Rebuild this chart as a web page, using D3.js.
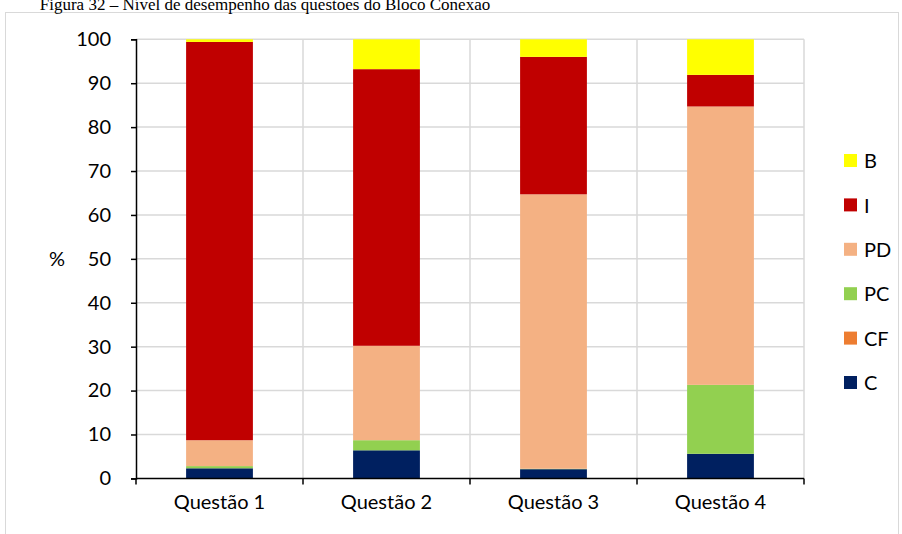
<!DOCTYPE html>
<html>
<head>
<meta charset="utf-8">
<script src="https://cdn.jsdelivr.net/npm/d3@7"></script>
<style>
  html, body { margin: 0; padding: 0; background: #fff; }
  svg { display: block; }
</style>
</head>
<body>
<svg id="chart" width="902" height="534"></svg>
<script>
// Questions on the x axis
const categories = ["Questão 1", "Questão 2", "Questão 3", "Questão 4"];
// Performance levels, stacked from the bottom up
const levels = ["C", "CF", "PC", "PD", "I", "B"];
// Share (%) of each level for every question
const valuesC  = [2.3, 6.4, 2.1, 5.6];
const valuesCF = [0.0, 0.0, 0.0, 0.0];
const valuesPC = [0.5, 2.3, 0.1, 15.7];
const valuesPD = [5.9, 21.5, 62.5, 63.4];
const valuesI  = [90.7, 63.0, 31.3, 7.2];
const valuesB  = [0.6, 6.8, 4.0, 8.1];
const yTicks = [0, 10, 20, 30, 40, 50, 60, 70, 80, 90, 100];
const titleText = "Figura 32 – Nível de desempenho das questões do Bloco Conexão";
const legendOrder = ["B", "I", "PD", "PC", "CF", "C"];

const levelColors = {
  C: "#002060", CF: "#ED7D31", PC: "#92D050",
  PD: "#F4B183", I: "#C00000", B: "#FFFF00"
};

const seriesValues = { C: valuesC, CF: valuesCF, PC: valuesPC, PD: valuesPD, I: valuesI, B: valuesB };
const rows = categories.map((q, i) => {
  const r = { q };
  levels.forEach(l => r[l] = seriesValues[l][i]);
  return r;
});

const svg = d3.select("#chart");
const font = "Lato, 'Open Sans', sans-serif";
const fontSize = 20;

// Outer frame of the chart
svg.append("rect")
  .attr("x", 5.5).attr("y", 12.5)
  .attr("width", 893).attr("height", 530)
  .attr("fill", "none").attr("stroke", "#d9d9d9").attr("stroke-width", 1);

// Caption, partly above the frame
svg.append("text")
  .attr("x", 265).attr("y", 9.5)
  .attr("text-anchor", "middle")
  .attr("font-family", "'Liberation Serif', 'Times New Roman', serif")
  .attr("font-size", 17)
  .attr("fill", "#000")
  .text(titleText);

const plot = { left: 136, right: 804, top: 39.3, bottom: 478.4 };

const x = d3.scaleBand().domain(categories)
  .range([plot.left, plot.right]).paddingInner(0.6).paddingOuter(0.3);
const xEdge = d3.scaleBand().domain(categories).range([plot.left, plot.right]);
const y = d3.scaleLinear().domain([0, 100]).range([plot.bottom, plot.top]);

// Gridlines
const grid = svg.append("g").attr("stroke", "#d9d9d9").attr("stroke-width", 1.5);
grid.selectAll("line.h").data(yTicks.filter(t => t > 0)).join("line")
  .attr("x1", plot.left).attr("x2", plot.right)
  .attr("y1", d => y(d)).attr("y2", d => y(d));
grid.selectAll("line.v").data(categories).join("line")
  .attr("x1", d => xEdge(d) + xEdge.bandwidth())
  .attr("x2", d => xEdge(d) + xEdge.bandwidth())
  .attr("y1", plot.top).attr("y2", plot.bottom);

// Stacked bars
const stack = d3.stack().keys(levels)(rows);
svg.append("g").selectAll("g").data(stack).join("g")
  .attr("fill", d => levelColors[d.key])
  .selectAll("rect").data(d => d).join("rect")
  .attr("x", d => x(d.data.q))
  .attr("width", x.bandwidth())
  .attr("y", d => y(d[1]))
  .attr("height", d => Math.max(0, y(d[0]) - y(d[1])));

// Y axis
const yAxis = svg.append("g")
  .attr("transform", `translate(${plot.left},0)`)
  .call(d3.axisLeft(y).tickValues(yTicks).tickSize(5).tickPadding(20));
yAxis.select(".domain").attr("stroke", "#000").attr("stroke-width", 1.5);
yAxis.selectAll(".tick line").attr("stroke", "#000").attr("stroke-width", 1.5);
yAxis.selectAll(".tick text")
  .attr("font-family", font).attr("font-size", fontSize).attr("fill", "#000");

// X axis with ticks at category boundaries
const xAxisG = svg.append("g").attr("transform", `translate(0,${plot.bottom})`);
xAxisG.append("line")
  .attr("x1", plot.left).attr("x2", plot.right)
  .attr("stroke", "#000").attr("stroke-width", 1.5);
const edges = [plot.left].concat(categories.map(c => xEdge(c) + xEdge.bandwidth()));
xAxisG.selectAll("line.t").data(edges).join("line")
  .attr("x1", d => d).attr("x2", d => d).attr("y1", 0).attr("y2", 6)
  .attr("stroke", "#000").attr("stroke-width", 1.5);
xAxisG.selectAll("text").data(categories).join("text")
  .attr("x", d => xEdge(d) + xEdge.bandwidth() / 2)
  .attr("y", 31)
  .attr("text-anchor", "middle")
  .attr("font-family", font).attr("font-size", fontSize).attr("fill", "#000")
  .text(d => d);

// Y axis unit label
svg.append("text")
  .attr("x", 57).attr("y", y(50))
  .attr("dy", "0.35em")
  .attr("text-anchor", "middle")
  .attr("font-family", font).attr("font-size", fontSize)
  .text("%");

// Legend
const legend = svg.append("g");
const legendY = d3.scalePoint().domain(legendOrder).range([161, 383]);
const items = legend.selectAll("g").data(legendOrder).join("g")
  .attr("transform", d => `translate(844,${legendY(d)})`);
items.append("rect")
  .attr("x", 0).attr("y", -7).attr("width", 13).attr("height", 13)
  .attr("fill", d => levelColors[d]);
items.append("text")
  .attr("x", 20).attr("dy", "0.36em")
  .attr("font-family", font).attr("font-size", fontSize)
  .text(d => d);
</script>
</body>
</html>
